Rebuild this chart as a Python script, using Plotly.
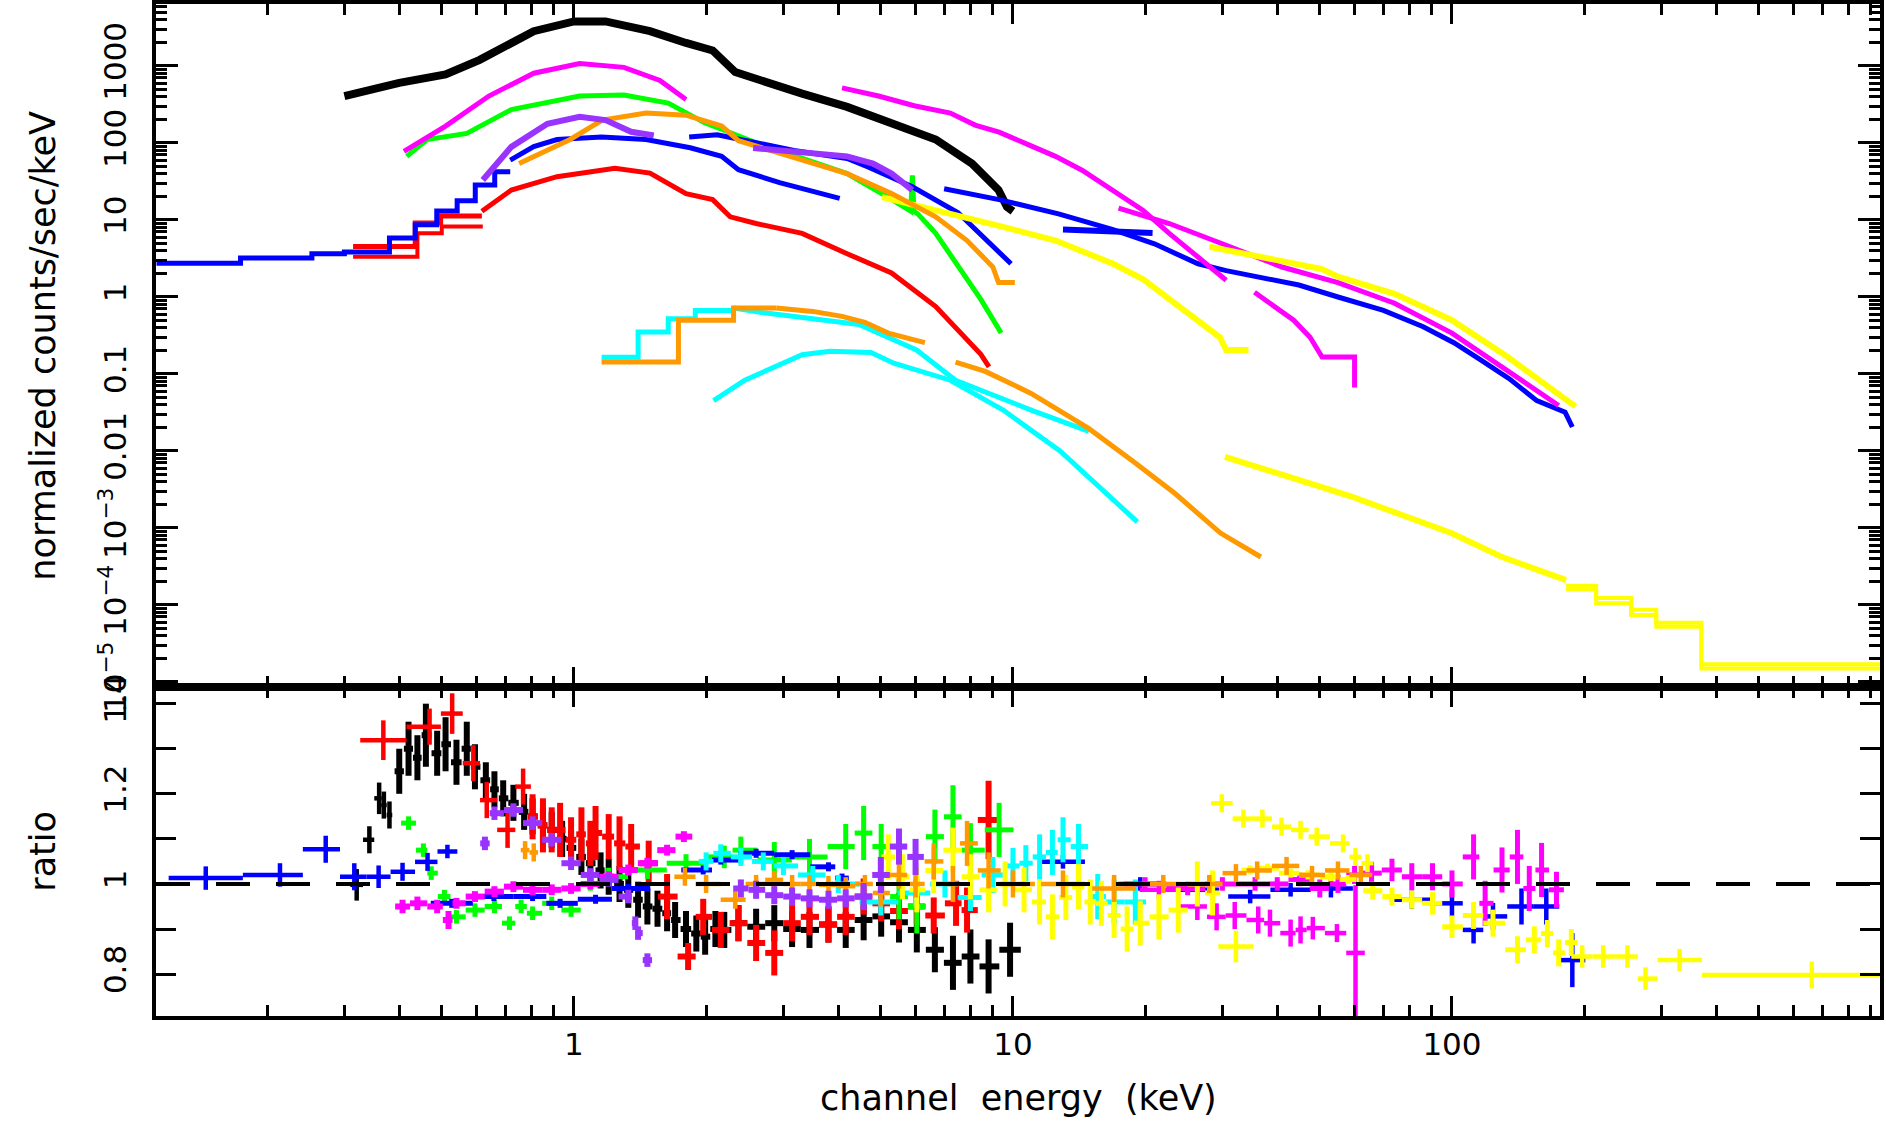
import numpy as np
import plotly.graph_objects as go

# ---------------- colours ----------------
COL = dict(black='#000000', red='#ff0000', green='#00ff00', blue='#0000ff',
           cyan='#00ffff', magenta='#ff00ff', yellow='#ffff00',
           orange='#ff9900', purple='#9933ff')

# ================= TOP PANEL DATA (energy keV, normalized counts/sec/keV) =================
black_E = [0.30, 0.40, 0.51, 0.61, 0.81, 1.00, 1.18, 1.49, 1.80, 2.07, 2.33, 2.61, 3.31, 4.19, 5.29, 6.67, 8.07, 9.27, 9.69, 10.0]
black_C = [407, 604, 776, 1200, 2830, 3790, 3790, 2830, 1990, 1590, 835, 670, 437, 294, 178, 111, 54, 24.5, 14.8, 13]

red_data_edges = [0.314, 0.435, 0.497, 0.617]
red_data_counts = [4.53, 9.14, 11.3]
red_model_edges = [0.314, 0.44, 0.50, 0.62]
red_model_counts = [3.34, 6.73, 8.2]
red_E = [0.617, 0.72, 0.915, 1.24, 1.49, 1.80, 2.07, 2.27, 2.6, 3.31, 4.19, 5.29, 6.67, 8.45, 8.82]
red_C = [13, 24.5, 36.5, 47, 40.7, 22, 18.4, 11, 9, 6.7, 3.65, 2.05, 0.75, 0.18, 0.124]

green_E = [0.416, 0.463, 0.57, 0.72, 1.03, 1.30, 1.64, 1.98, 2.61, 4.19, 5.29, 5.85, 5.9, 5.95, 6.07, 6.67, 8.45, 9.4]
green_C = [67, 111, 133, 272, 407, 420, 330, 184, 100, 40, 18.5, 13, 38, 13, 12, 6.7, 0.93, 0.34]

blue_step_edges = [0.112, 0.174, 0.253, 0.30, 0.38, 0.435, 0.487, 0.542, 0.596, 0.66, 0.716]
blue_step_counts = [2.74, 3.22, 3.65, 3.85, 5.83, 8.66, 13.1, 17.8, 28.4, 42.2]
blue_soft_E = [0.716, 0.81, 0.915, 1.156, 1.46, 1.84, 2.17, 2.37, 2.94, 4.03]
blue_soft_C = [60, 89.6, 111, 120, 111, 86.6, 67, 45, 30.6, 19.1]
blue_mid_E = [1.83, 2.12, 2.47, 3.17, 4.19, 4.69, 5.9, 7.5, 9.9]
blue_mid_C = [120, 128, 107, 80, 63, 48.5, 27, 12.4, 2.7]
blue_hard_E = [6.97, 9.3, 12.7, 16.9, 21.0, 26.4, 30.6, 35.5, 44.8, 55, 69.8, 86, 101, 116, 135, 156, 181, 188]
blue_hard_C = [25.5, 18.4, 12, 7.5, 4.9, 2.7, 2.2, 1.85, 1.43, 1.0, 0.67, 0.41, 0.255, 0.154, 0.087, 0.045, 0.032, 0.0205]
blue_dash_E = [13, 20.8]
blue_dash_C = [7.5, 6.8]

cyan_step_edges = [1.156, 1.40, 1.64, 1.89, 2.31]
cyan_step_counts = [0.165, 0.35, 0.52, 0.67]
cyanA_E = [2.31, 2.68, 4.46, 6.03, 7.4, 11.0, 14.9]
cyanA_C = [0.72, 0.63, 0.44, 0.205, 0.083, 0.034, 0.018]
cyanB_E = [2.08, 2.45, 3.31, 3.83, 4.75, 5.35, 7.2, 9.5, 12.8, 19.2]
cyanB_C = [0.045, 0.083, 0.178, 0.197, 0.19, 0.138, 0.083, 0.034, 0.01, 0.0012]

magenta_soft_E = [0.41, 0.51, 0.64, 0.81, 1.03, 1.30, 1.57, 1.80]
magenta_soft_C = [78, 166, 407, 805, 1075, 960, 650, 366]
magenta_mid_E = [4.08, 4.94, 5.96, 7.2, 8.2, 9.3, 10.8, 12.5, 14.4, 16.9, 19.8, 22.7, 26.3, 30.6]
magenta_mid_C = [520, 407, 305, 245, 171, 138, 96, 67, 44, 24.5, 13.3, 6.7, 3.4, 1.65]
magenta_step_E = [35.5, 43.6, 47.5, 50.6, 60.0, 60.0]
magenta_step_C = [1.15, 0.5, 0.3, 0.166, 0.166, 0.067]
magenta_hard_E = [17.4, 22.7, 30.6, 41, 55, 74, 100, 134, 175]
magenta_hard_C = [14.3, 9, 4.7, 2.45, 1.54, 0.83, 0.34, 0.11, 0.039]

yellow_mid_E = [5.03, 6.75, 9.3, 12.5, 16.9, 19.8, 22.7, 26.4, 29.6, 30.6, 34.4]
yellow_mid_C = [19.8, 13.3, 8.4, 5.4, 2.7, 1.7, 0.93, 0.5, 0.3, 0.205, 0.205]
yellow_hard_E = [28, 50.6, 55, 74, 100, 134, 191]
yellow_hard_C = [4.5, 2.3, 1.84, 1.1, 0.5, 0.166, 0.038]
yellow_wide_E = [30.4, 58.6, 99.6, 130, 182]
yellow_wide_C = [0.0084, 0.0026, 8.6e-4, 4.2e-4, 2.1e-4]
yellow_tail_edges = [182, 213, 256, 292, 370, 945]
yellow_tail_counts = [1.78e-4, 1.23e-4, 8.7e-5, 5.9e-5, 1.7e-5]
yellow_tail2_counts = [1.6e-4, 1.05e-4, 7.4e-5, 5.2e-5, 1.5e-5]

orange_hi_E = [0.75, 0.98, 1.16, 1.46, 1.80, 2.17, 2.37, 3.31, 4.19, 5.29, 6.67, 7.86, 9.0, 9.27, 10.1]
orange_hi_C = [54, 111, 198, 245, 230, 166, 107, 60, 40, 22, 11, 5.4, 2.45, 1.54, 1.54]
orange_step_edges = [1.156, 1.73, 2.31, 2.89]
orange_step_counts = [0.143, 0.50, 0.72]
orange_lo_E = [2.89, 3.5, 4.08, 4.6, 5.2, 6.3]
orange_lo_C = [0.72, 0.65, 0.56, 0.47, 0.34, 0.255]
orange_lo2_E = [7.4, 8.65, 11, 14.9, 19, 23.4, 29.7, 36.7]
orange_lo2_C = [0.143, 0.108, 0.056, 0.0195, 0.007, 0.0028, 8.6e-4, 4.2e-4]

purple_soft_E = [0.62, 0.72, 0.87, 1.03, 1.18, 1.35, 1.52]
purple_soft_C = [33, 89, 178, 219, 198, 140, 125]
purple_hard_E = [2.56, 3.31, 4.19, 4.8, 5.29, 5.9]
purple_hard_C = [86, 75, 67, 54, 40, 24.5]

# ================= BOTTOM PANEL DATA (energy keV, ratio, ratio error) =================
rb_coarse_E = [0.32, 0.342, 0.36, 0.369, 0.38]
rb_coarse_R = [0.998, 1.098, 1.19, 1.175, 1.153]
rb_coarse_D = [0.035, 0.03, 0.035, 0.03, 0.03]
rb_E = [0.40, 0.42, 0.44, 0.46, 0.488, 0.51, 0.54, 0.57, 0.595, 0.63,
        0.659, 0.69, 0.728, 0.77, 0.805, 0.85, 0.89, 0.94, 0.985, 1.04,
        1.09, 1.15, 1.2, 1.27, 1.33, 1.4, 1.47, 1.55, 1.63, 1.7,
        1.8, 1.9, 1.99, 2.1, 2.2, 2.37, 2.6, 2.86, 3.14, 3.44,
        3.8, 4.16, 4.57, 5.01, 5.5, 6.04, 6.64, 7.3, 8.0, 8.8, 9.85]
rb_R = [1.25, 1.30, 1.28, 1.33, 1.29, 1.31, 1.27, 1.30, 1.26, 1.23,
        1.21, 1.19, 1.18, 1.16, 1.15, 1.13, 1.12, 1.10, 1.08, 1.06,
        1.046, 1.03, 1.016, 1.0, 0.987, 0.965, 0.95, 0.945, 0.935, 0.92,
        0.90, 0.89, 0.883, 0.90, 0.898, 0.913, 0.905, 0.913, 0.90, 0.898,
        0.91, 0.898, 0.92, 0.928, 0.915, 0.898, 0.854, 0.825, 0.839, 0.817, 0.854]
rb_D = [0.05, 0.06, 0.05, 0.07, 0.05, 0.06, 0.05, 0.06, 0.05, 0.04,
        0.04, 0.04, 0.04, 0.04, 0.04, 0.04, 0.04, 0.04, 0.04, 0.04,
        0.04, 0.04, 0.04, 0.04, 0.04, 0.04, 0.04, 0.04, 0.04, 0.04,
        0.04, 0.04, 0.04, 0.04, 0.04, 0.04, 0.04, 0.04, 0.04, 0.04,
        0.04, 0.04, 0.045, 0.045, 0.045, 0.05, 0.05, 0.06, 0.06, 0.06, 0.06]

rr_coarse_E = [0.368, 0.469, 0.528, 0.59, 0.633, 0.706, 0.766]
rr_coarse_R = [1.319, 1.349, 1.378, 1.268, 1.186, 1.12, 1.216]
rr_coarse_D = [0.044, 0.04, 0.045, 0.04, 0.04, 0.04, 0.04]
rr_E = [0.805, 0.85, 0.89, 0.93, 0.985, 1.04, 1.09, 1.12, 1.2, 1.27, 1.35, 1.48, 1.63, 1.82, 1.97, 2.16,
        2.37, 2.6, 2.86, 3.14, 3.44, 3.8, 4.16, 4.57, 5.01, 5.5, 6.04, 6.6, 7.42, 7.86, 8.8]
rr_R = [1.149, 1.13, 1.12, 1.12, 1.098, 1.11, 1.09, 1.113, 1.105, 1.09, 1.083, 1.046, 0.972, 0.839, 0.927, 0.898,
        0.913, 0.869, 0.847, 0.913, 0.927, 0.91, 0.927, 0.972, 0.957, 0.94, 0.95, 0.93, 0.957, 0.942, 1.142]
rr_D = [0.05, 0.06, 0.05, 0.06, 0.05, 0.06, 0.05, 0.06, 0.05, 0.06, 0.05, 0.05, 0.05, 0.03, 0.04, 0.04,
        0.04, 0.04, 0.05, 0.04, 0.04, 0.04, 0.04, 0.04, 0.04, 0.04, 0.04, 0.04, 0.05, 0.05, 0.087]

rg_E = [0.42, 0.454, 0.473, 0.507, 0.54, 0.595, 0.659, 0.713, 0.758, 0.805, 0.89, 0.985, 1.09, 1.2, 1.47,
        1.8, 2.2, 2.4, 2.86, 3.44, 4.16, 4.57, 5.01, 5.5, 6.04, 6.64, 7.3, 8.0, 9.3]
rg_R = [1.135, 1.075, 1.024, 0.972, 0.927, 0.942, 0.95, 0.913, 0.95, 0.935, 0.957, 0.942, 1.0, 1.016, 1.031,
        1.046, 1.06, 1.075, 1.053, 1.06, 1.083, 1.113, 1.083, 0.972, 0.95, 1.105, 1.149, 1.075, 1.12]
rg_D = [0.015, 0.015, 0.015, 0.015, 0.015, 0.015, 0.015, 0.015, 0.015, 0.015, 0.015, 0.015, 0.015, 0.02, 0.02,
        0.02, 0.025, 0.03, 0.04, 0.04, 0.05, 0.06, 0.05, 0.05, 0.06, 0.06, 0.07, 0.06, 0.06]

rbl_coarse_E = [0.145, 0.214, 0.272, 0.316, 0.359, 0.407, 0.464, 0.515]
rbl_coarse_R = [1.013, 1.02, 1.077, 1.016, 1.016, 1.027, 1.049, 1.072]
rbl_coarse_D = [0.026, 0.026, 0.03, 0.03, 0.025, 0.02, 0.02, 0.015]
rbl_E = [0.527, 0.657, 0.805, 0.93, 1.12, 1.33, 1.97, 2.16, 2.6, 3.14, 3.8, 4.08]
rbl_R = [0.957, 0.972, 0.972, 0.957, 0.966, 0.99, 1.031, 1.053, 1.068, 1.065, 1.038, 1.013]
rbl_D = [0.01, 0.01, 0.01, 0.01, 0.01, 0.01, 0.01, 0.01, 0.01, 0.01, 0.01, 0.01]
rbl_hard_E = [13, 19.5, 26.3, 34.7, 42.9, 53, 81, 100, 112, 124, 144, 164, 188]
rbl_hard_R = [1.049, 1.0, 0.987, 0.972, 0.987, 0.99, 0.965, 0.957, 0.898, 0.928, 0.95, 0.95, 0.831]
rbl_hard_D = [0.015, 0.015, 0.015, 0.015, 0.015, 0.02, 0.02, 0.03, 0.03, 0.03, 0.04, 0.04, 0.06]

rc_E = [2.0, 2.16, 2.4, 2.7, 3.0, 3.5, 4.0, 5.0, 6.0, 7.0, 8.0, 9.0, 10.0, 10.7, 11.5, 12.3, 13.0, 14.1, 15.6, 17, 19]
rc_R = [1.05, 1.068, 1.06, 1.05, 1.04, 1.02, 1.0, 0.96, 0.98, 1.0, 0.97, 1.02, 1.04, 1.046, 1.06, 1.07, 1.098, 1.083, 0.972, 0.96, 0.96]
rc_D = [0.02, 0.02, 0.02, 0.02, 0.02, 0.02, 0.02, 0.03, 0.03, 0.03, 0.03, 0.04, 0.04, 0.04, 0.05, 0.05, 0.05, 0.05, 0.05, 0.05, 0.05]

rm_soft_E = [0.407, 0.44, 0.488, 0.518, 0.54, 0.595, 0.659, 0.728, 0.805, 0.89, 0.985, 1.09, 1.2, 1.33, 1.47, 1.63, 1.78]
rm_soft_R = [0.95, 0.957, 0.95, 0.92, 0.957, 0.972, 0.983, 0.994, 0.987, 0.987, 0.99, 1.0, 1.016, 1.031, 1.046, 1.075, 1.105]
rm_soft_D = [0.015, 0.015, 0.015, 0.02, 0.012, 0.012, 0.012, 0.012, 0.012, 0.012, 0.012, 0.012, 0.012, 0.012, 0.012, 0.012, 0.012]
rm_mid_E = [21.5, 26.3, 29.1, 32, 36.2, 38.5, 42.9, 45.2, 48.2, 54.7, 60.3]
rm_mid_R = [0.987, 0.95, 0.927, 0.93, 0.92, 0.913, 0.891, 0.898, 0.902, 0.891, 0.847]
rm_mid_D = [0.02, 0.03, 0.03, 0.03, 0.03, 0.03, 0.03, 0.03, 0.025, 0.02, 0.15]
rm_hard_E = [20, 25, 30, 35.6, 40, 45, 50, 55, 60, 65.6, 73, 81, 90.3, 100, 112, 119, 130, 141, 150, 160, 173]
rm_hard_R = [1.0, 0.99, 1.0, 1.0, 1.0, 1.01, 0.99, 1.0, 1.02, 1.024, 1.031, 1.016, 1.016, 1.0, 1.06, 0.957, 1.031, 1.06, 0.99, 1.031, 0.987]
rm_hard_D = [0.015, 0.015, 0.015, 0.015, 0.015, 0.015, 0.02, 0.02, 0.02, 0.025, 0.025, 0.03, 0.03, 0.03, 0.05, 0.05, 0.05, 0.06, 0.05, 0.06, 0.04]

ry_mid_E = [5.2, 5.6, 6.04, 6.6, 7.3, 8.0, 8.8, 9.6, 10.6, 11.5, 12.3, 13.2, 14.1, 15.0, 15.9, 17.0, 18.2, 19.5, 21.5, 23.8, 26.3, 28.5]
ry_mid_R = [1.06, 1.016, 0.987, 1.03, 1.075, 1.016, 0.987, 1.0, 0.987, 0.96, 0.927, 0.97, 0.994, 0.96, 0.957, 0.93, 0.90, 0.913, 0.927, 0.942, 1.0, 0.98]
ry_mid_D = [0.05, 0.05, 0.05, 0.05, 0.05, 0.05, 0.05, 0.05, 0.05, 0.05, 0.05, 0.05, 0.05, 0.05, 0.05, 0.05, 0.05, 0.05, 0.05, 0.05, 0.05, 0.05]
ry_big_E = [32.2]
ry_big_R = [0.861]
ry_big_D = [0.035]
ry_up_E = [29.9, 33.5, 37.0, 40.9, 45.2, 49.2, 56.5, 60.3, 64.2]
ry_up_R = [1.179, 1.145, 1.145, 1.127, 1.12, 1.105, 1.09, 1.06, 1.046]
ry_up_D = [0.02, 0.02, 0.02, 0.02, 0.02, 0.02, 0.02, 0.02, 0.02]
ry_band_E = [34.7, 38, 42.9, 47, 53, 58]
ry_band_R = [1.031, 1.035, 1.024, 1.02, 1.016, 1.01]
ry_band_D = [0.01, 0.01, 0.01, 0.01, 0.01, 0.01]
ry_tail_E = [66, 73, 81, 90.3, 100, 112, 124, 141, 154, 165, 175, 187]
ry_tail_R = [0.985, 0.972, 0.965, 0.957, 0.905, 0.93, 0.913, 0.854, 0.876, 0.89, 0.847, 0.87]
ry_tail_D = [0.02, 0.02, 0.02, 0.025, 0.025, 0.03, 0.03, 0.03, 0.03, 0.03, 0.03, 0.03]
ry_coarse_E = [198, 221, 251, 276, 330, 660]
ry_coarse_lo = [187, 209, 235, 265, 294, 371]
ry_coarse_hi = [209, 235, 265, 294, 371, 975]
ry_coarse_R = [0.839, 0.839, 0.839, 0.79, 0.831, 0.798]
ry_coarse_D = [0.025, 0.025, 0.025, 0.025, 0.025, 0.03]

ro_soft_E = [0.774, 0.81]
ro_soft_R = [1.075, 1.07]
ro_soft_D = [0.02, 0.02]
ro_E = [1.79, 2.0, 2.33, 2.6, 2.86, 3.14, 3.44, 3.8, 4.16, 4.6, 5.0, 5.5, 6.0, 6.6, 7.3, 7.86, 8.8, 10, 13, 17, 22, 28, 32.2, 36, 42, 48, 55, 62]
ro_R = [1.016, 1.0, 0.965, 1.0, 1.009, 1.0, 1.0, 0.998, 0.995, 1.0, 0.98, 1.02, 1.0, 1.05, 1.0, 1.09, 1.03, 1.0, 1.0, 0.99, 1.0, 1.0, 1.024, 1.03, 1.04, 1.02, 1.03, 1.02]
ro_D = [0.02, 0.02, 0.02, 0.02, 0.02, 0.02, 0.02, 0.02, 0.02, 0.02, 0.03, 0.03, 0.03, 0.04, 0.04, 0.05, 0.04, 0.03, 0.03, 0.03, 0.02, 0.02, 0.02, 0.02, 0.02, 0.02, 0.02, 0.02]

rp_soft_E = [0.627, 0.659, 0.728, 0.805, 0.89, 0.985, 1.09, 1.2, 1.33, 1.38, 1.40, 1.47]
rp_soft_R = [1.09, 1.157, 1.164, 1.135, 1.098, 1.046, 1.02, 1.009, 0.972, 0.913, 0.891, 0.831]
rp_soft_D = [0.015, 0.015, 0.015, 0.015, 0.015, 0.015, 0.015, 0.015, 0.015, 0.015, 0.015, 0.015]
rp_hard_E = [2.4, 2.6, 2.86, 3.14, 3.44, 3.8, 4.16, 4.57, 5.0, 5.5, 6.0]
rp_hard_R = [0.99, 0.987, 0.975, 0.972, 0.968, 0.965, 0.968, 0.972, 1.02, 1.083, 1.06]
rp_hard_D = [0.02, 0.02, 0.02, 0.02, 0.02, 0.02, 0.02, 0.03, 0.04, 0.04, 0.04]

# ---------------- axis tick labels ----------------
x_major = [1, 10, 100]
x_major_text = ['1', '10', '100']
x_minor = [0.2, 0.3, 0.4, 0.5, 0.6, 0.7, 0.8, 0.9, 2, 3, 4, 5, 6, 7, 8, 9,
           20, 30, 40, 50, 60, 70, 80, 90, 200, 300, 400, 500, 600, 700, 800, 900]
yc_major = [1e-5, 1e-4, 1e-3, 0.01, 0.1, 1, 10, 100, 1000]
yc_major_text = ['10<sup>\u22125</sup>', '10<sup>\u22124</sup>', '10<sup>\u22123</sup>',
                 '0.01', '0.1', '1', '10', '100', '1000']
yc_minor = [m * d for d in [1e-6, 1e-5, 1e-4, 1e-3, 1e-2, 0.1, 1, 10, 100, 1000] for m in range(2, 10)]
yr_major = [0.8, 1.0, 1.2, 1.4]
yr_major_text = ['0.8', '1', '1.2', '1.4']
yr_minor = [0.9, 1.1, 1.3]

fig = go.Figure()
TOP = dict(xaxis='x2', yaxis='y2')
BOT = dict(xaxis='x', yaxis='y')


def line(E, C, color, width=5):
    fig.add_trace(go.Scatter(x=E, y=C, mode='lines', line=dict(color=COL[color], width=width),
                             hoverinfo='skip', **TOP))


def steps(edges, counts, color, width=5):
    fig.add_trace(go.Scatter(x=edges, y=list(counts) + [counts[-1]], mode='lines',
                             line=dict(color=COL[color], width=width, shape='hv'),
                             hoverinfo='skip', **TOP))


def cross(E, R, D, color, cap=0.05, lo=None, hi=None, th=4.5):
    E = np.asarray(E, float)
    if lo is None:
        lg = np.log10(E)
        if len(E) > 1:
            g = np.diff(lg)
            left = np.minimum(np.concatenate([[g[0]], g]) / 2, cap)
            right = np.minimum(np.concatenate([g, [g[-1]]]) / 2, cap)
        else:
            left = right = np.array([cap])
        plus = 10 ** (lg + right) - E
        minus = E - 10 ** (lg - left)
    else:
        plus = np.asarray(hi) - E
        minus = E - np.asarray(lo)
    fig.add_trace(go.Scatter(
        x=E, y=R, mode='markers', marker=dict(color=COL[color], size=5),
        error_x=dict(type='data', symmetric=False, array=plus, arrayminus=minus,
                     color=COL[color], thickness=th, width=0),
        error_y=dict(type='data', array=D, color=COL[color], thickness=th, width=0),
        hoverinfo='skip', **BOT))


# ---- top panel traces ----
line(black_E, black_C, 'black', 8)
steps(red_data_edges, red_data_counts, 'red')
steps(red_model_edges, red_model_counts, 'red', 4)
line(red_E, red_C, 'red')
line(green_E, green_C, 'green')
steps(blue_step_edges, blue_step_counts, 'blue')
line(blue_soft_E, blue_soft_C, 'blue')
line(blue_mid_E, blue_mid_C, 'blue')
line(blue_hard_E, blue_hard_C, 'blue')
line(blue_dash_E, blue_dash_C, 'blue', 6)
steps(cyan_step_edges, cyan_step_counts, 'cyan')
line(cyanA_E, cyanA_C, 'cyan')
line(cyanB_E, cyanB_C, 'cyan')
line(magenta_soft_E, magenta_soft_C, 'magenta')
line(magenta_mid_E, magenta_mid_C, 'magenta')
line(magenta_step_E, magenta_step_C, 'magenta')
line(magenta_hard_E, magenta_hard_C, 'magenta')
line(yellow_mid_E, yellow_mid_C, 'yellow', 6)
line(yellow_hard_E, yellow_hard_C, 'yellow', 6)
line(yellow_wide_E, yellow_wide_C, 'yellow', 6)
steps(yellow_tail_edges, yellow_tail_counts, 'yellow', 4)
steps(yellow_tail_edges, yellow_tail2_counts, 'yellow', 4)
line(orange_hi_E, orange_hi_C, 'orange')
steps(orange_step_edges, orange_step_counts, 'orange')
line(orange_lo_E, orange_lo_C, 'orange')
line(orange_lo2_E, orange_lo2_C, 'orange')
line(purple_soft_E, purple_soft_C, 'purple', 6)
line(purple_hard_E, purple_hard_C, 'purple', 6)

# ---- bottom panel traces ----
cross(rb_coarse_E, rb_coarse_R, rb_coarse_D, 'black')
cross(rb_E, rb_R, rb_D, 'black', th=6)
cross(rr_coarse_E, rr_coarse_R, rr_coarse_D, 'red', cap=0.15)
cross(rr_E, rr_R, rr_D, 'red', th=6)
cross(rg_E, rg_R, rg_D, 'green', th=5)
cross(rbl_coarse_E, rbl_coarse_R, rbl_coarse_D, 'blue', cap=0.2)
cross(rbl_E, rbl_R, rbl_D, 'blue', th=5)
cross(rbl_hard_E, rbl_hard_R, rbl_hard_D, 'blue')
cross(rc_E, rc_R, rc_D, 'cyan', th=5)
cross(rm_soft_E, rm_soft_R, rm_soft_D, 'magenta', th=6)
cross(rm_hard_E, rm_hard_R, rm_hard_D, 'magenta', th=5)
cross(rm_mid_E, rm_mid_R, rm_mid_D, 'magenta')
cross(ry_mid_E, ry_mid_R, ry_mid_D, 'yellow', th=5)
cross(ry_big_E, ry_big_R, ry_big_D, 'yellow', cap=0.04)
cross(ry_band_E, ry_band_R, ry_band_D, 'yellow', th=5)
cross(ry_up_E, ry_up_R, ry_up_D, 'yellow')
cross(ry_tail_E, ry_tail_R, ry_tail_D, 'yellow', th=5)
cross(ry_coarse_E, ry_coarse_R, ry_coarse_D, 'yellow', lo=ry_coarse_lo, hi=ry_coarse_hi)
cross(ro_soft_E, ro_soft_R, ro_soft_D, 'orange')
cross(ro_E, ro_R, ro_D, 'orange')
cross(rp_soft_E, rp_soft_R, rp_soft_D, 'purple', th=6)
cross(rp_hard_E, rp_hard_R, rp_hard_D, 'purple', th=6)

# reference line ratio = 1
fig.add_shape(type='line', xref='x domain', yref='y', x0=0, x1=1, y0=1, y1=1,
              line=dict(color='black', width=4, dash='34px,26px'), layer='above')

FONT = 'DejaVu Sans'
axis_common = dict(showline=True, linewidth=4, linecolor='black', mirror='ticks',
                   ticks='inside', tickwidth=3, tickcolor='black', showgrid=False,
                   zeroline=False, automargin=False,
                   tickfont=dict(family=FONT, size=31, color='black'))
D = 329 / 1012

fig.update_layout(
    width=1886, height=1121,
    margin=dict(l=156, r=6, t=4, b=105, autoexpand=False),
    plot_bgcolor='white', paper_bgcolor='white', showlegend=False,
    font=dict(family=FONT, size=31, color='black'),
    xaxis=dict(domain=[0, 1], anchor='y', type='log', range=[-0.952, 2.975],
               tickvals=x_major, ticktext=x_major_text, ticklen=20, ticklabelstandoff=-2,
               minor=dict(ticks='inside', tickvals=x_minor, ticklen=11, tickwidth=3, tickcolor='black'),
               **axis_common),
    xaxis2=dict(domain=[0, 1], anchor='y2', type='log', range=[-0.952, 2.975], matches='x',
                tickvals=x_major, ticklen=20, showticklabels=False,
                minor=dict(ticks='inside', tickvals=x_minor, ticklen=11, tickwidth=3, tickcolor='black'),
                **axis_common),
    yaxis=dict(domain=[0, D], anchor='x', range=[0.707, 1.437],
               tickvals=yr_major, ticktext=yr_major_text, ticklen=20, tickangle=-90,
               ticklabelstandoff=14,
               minor=dict(ticks='inside', tickvals=yr_minor, ticklen=20, tickwidth=3, tickcolor='black'),
               **axis_common),
    yaxis2=dict(domain=[D, 1], anchor='x2', type='log', range=[-5.065, 3.805],
                tickvals=yc_major, ticktext=yc_major_text, ticklen=22, tickangle=-90,
                ticklabelstandoff=14,
                minor=dict(ticks='inside', tickvals=yc_minor, ticklen=11, tickwidth=3, tickcolor='black'),
                **axis_common),
    annotations=[
        dict(text='channel\u00a0 energy\u00a0 (keV)', xref='paper', yref='paper', x=0.5, y=-0.081,
             xanchor='center', yanchor='middle', showarrow=False,
             font=dict(family=FONT, size=35, color='black')),
        dict(text='normalized counts/sec/keV', xref='paper', yref='y2 domain', x=-0.066, y=0.5,
             xanchor='center', yanchor='middle', textangle=-90, showarrow=False,
             font=dict(family=FONT, size=35, color='black')),
        dict(text='ratio', xref='paper', yref='y domain', x=-0.066, y=0.5,
             xanchor='center', yanchor='middle', textangle=-90, showarrow=False,
             font=dict(family=FONT, size=35, color='black')),
    ],
)

fig.write_html('out.html', config={'displayModeBar': False},
               post_script="document.body.style.margin='0';document.body.style.overflow='hidden';")
